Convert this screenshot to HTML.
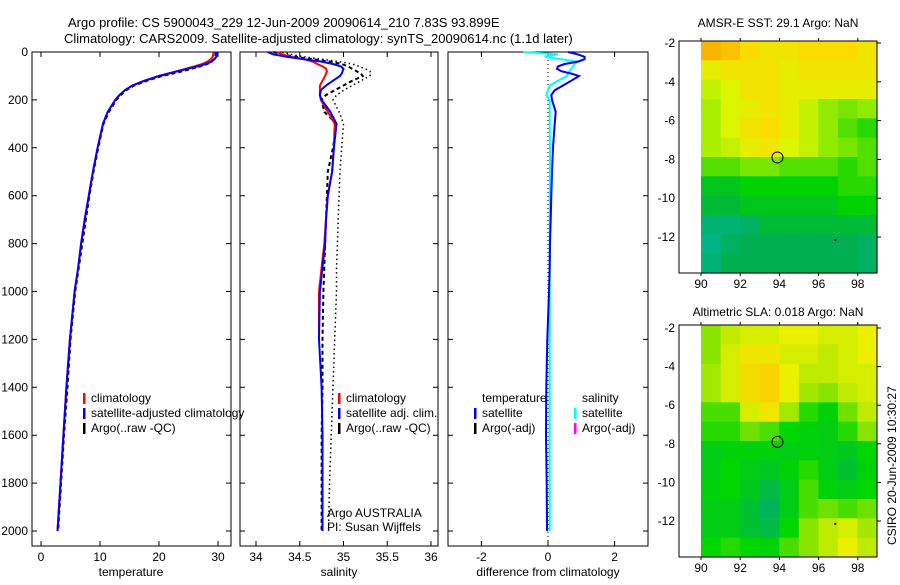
<!DOCTYPE html>
<html><head><meta charset="utf-8">
<style>
body{margin:0;background:#fff;width:900px;height:580px;overflow:hidden;font-family:"Liberation Sans",sans-serif;}
svg text{font-family:"Liberation Sans",sans-serif;font-size:12px;fill:#000;}
</style></head>
<body>
<svg id="chart" width="900" height="580" xmlns="http://www.w3.org/2000/svg">
<text x="68" y="27" style="font-size:13px">Argo profile: CS 5900043_229 12-Jun-2009 20090614_210 7.83S 93.899E</text>
<text x="64" y="43" style="font-size:13px">Climatology: CARS2009. Satellite-adjusted climatology: synTS_20090614.nc (1.1d later)</text>
<text x="778" y="27" text-anchor="middle">AMSR-E SST: 29.1 Argo: NaN</text>
<text x="778" y="316" text-anchor="middle">Altimetric SLA: 0.018 Argo: NaN</text>
<text transform="translate(896,545) rotate(-90)" x="0" y="0">CSIRO 20-Jun-2009 10:30:27</text>
<g id="g"></g>
</svg>
<script>
// ---- profile data ----
const depths = [0,10,20,30,40,50,60,70,80,90,100,120,140,160,180,200,250,300,400,500,600,700,800,900,1000,1200,1400,1600,1800,2000];
const tempClim = [29.2,29.2,29.1,28.8,28.2,27.3,26,24.5,23,21.5,20,17.5,15.5,14.2,13.3,12.6,11.3,10.5,9.6,8.8,8.1,7.4,6.8,6.3,5.7,4.9,4.3,3.8,3.3,2.8];
const tempSat  = [29.8,29.8,29.7,29.4,28.9,27.9,26.5,24.8,23.2,21.6,20,17.6,15.5,14.2,13.3,12.6,11.3,10.5,9.6,8.8,8.1,7.4,6.8,6.3,5.7,4.9,4.3,3.8,3.3,2.8];
const tempArgo = [29.6,29.6,29.5,29.3,28.9,28.2,27,25.5,24,22.3,20.5,18,15.8,14.4,13.5,12.8,11.5,10.6,9.7,8.9,8.2,7.6,7.0,6.4,5.8,5.0,4.5,3.9,3.4,2.9];
const salClim  = [34.24,34.3,34.4,34.55,34.65,34.7,34.76,34.8,34.81,34.8,34.79,34.76,34.73,34.73,34.73,34.74,34.82,34.9,34.89,34.87,34.82,34.8,34.78,34.75,34.72,34.72,null,null,null,null];
const salSat   = [34.13,34.2,34.35,34.55,34.75,34.88,34.97,35.0,34.99,34.98,34.96,34.88,34.8,34.74,34.73,34.75,34.85,34.92,34.89,34.87,34.82,34.8,34.79,34.76,34.73,34.72,34.75,34.76,34.76,34.76];
const salArgo  = [34.2,34.3,34.45,34.65,34.85,34.98,35.05,35.1,35.15,35.2,35.22,35.1,35.0,34.9,34.8,34.75,34.78,34.92,34.88,34.82,34.81,34.8,34.79,34.78,34.77,34.76,34.76,34.75,34.75,34.75];
const salArgoRaw = [34.3,34.4,34.55,34.75,34.95,35.1,35.18,35.25,35.3,35.32,35.3,35.2,35.1,35.0,34.92,34.88,34.95,35.0,34.98,34.96,34.95,34.94,34.93,34.92,34.92,34.9,34.88,34.86,34.84,34.83];
const diffTemp = [0.6,0.9,1.1,1.1,0.9,0.5,0.3,0.27,0.4,0.7,0.93,0.7,0.45,0.2,0.1,0.12,0.23,0.2,0.15,0.12,0.1,0.08,0.06,0.05,0.03,-0.02,-0.05,-0.06,-0.04,-0.03];
const diffSal  = [-0.75,0.3,-0.1,0.4,0.87,0.8,0.75,0.7,0.65,0.6,0.57,0.3,0.05,0.0,-0.05,0.05,0.05,0.05,0.06,0.06,0.05,0.05,0.05,0.05,0.05,0.05,0.05,0.05,0.05,0.05];
const depthTicks = [0,200,400,600,800,1000,1200,1400,1600,1800,2000];
const tempTicks = [0,10,20,30];
const salTicks = ["34","34.5","35","35.5","36"];
const diffTicks = [-2,0,2];
// ---- map data (rows lat -2.5..-13.5, cols lon ~90.4..98.4) ----
const sstGrid = [
[30.3,30.2,30.0,29.9,29.9,30.0,30.0,30.0,29.9],
[29.8,29.9,29.9,29.9,29.8,29.9,29.9,29.9,29.9],
[29.6,29.7,29.9,29.9,29.8,29.8,29.8,29.8,29.8],
[29.5,29.7,29.8,29.9,29.8,29.6,29.4,29.3,29.4],
[29.5,29.7,29.9,30.0,29.8,29.6,29.4,29.2,29.1],
[29.5,29.6,29.8,29.9,29.7,29.6,29.4,29.3,29.2],
[29.2,29.2,29.3,29.3,29.2,29.2,29.2,29.1,29.2],
[28.9,28.9,29.0,29.0,29.0,29.0,29.0,29.1,29.1],
[28.8,28.8,28.9,28.9,28.9,28.9,28.9,29.0,29.0],
[28.5,28.5,28.6,28.8,28.8,28.8,28.8,28.8,28.8],
[28.4,28.6,28.7,28.7,28.7,28.7,28.7,28.7,28.6],
[28.5,28.7,28.7,28.7,28.7,28.7,28.7,28.7,28.6]];
const slaGrid = [
[0.02,0.04,0.05,0.05,0.06,0.06,0.05,0.05,0.06],
[0.02,0.05,0.07,0.07,0.05,0.05,0.04,0.05,0.06],
[0.03,0.05,0.08,0.09,0.06,0.04,0.04,0.05,0.05],
[0.03,0.05,0.08,0.09,0.06,0.03,0.02,0.04,0.05],
[0.0,0.0,0.05,0.07,0.03,-0.01,-0.03,0.01,0.04],
[-0.01,-0.01,0.01,0.0,-0.02,-0.03,-0.04,-0.01,0.02],
[-0.04,-0.03,-0.03,-0.03,-0.04,-0.03,-0.04,-0.05,-0.02],
[-0.04,-0.02,-0.04,-0.05,-0.03,-0.01,-0.04,-0.06,-0.03],
[-0.03,-0.02,-0.05,-0.07,-0.04,0.0,-0.03,-0.04,-0.02],
[-0.04,-0.04,-0.06,-0.08,-0.04,0.0,0.01,0.0,0.01],
[-0.04,-0.04,-0.06,-0.07,-0.02,0.02,0.04,0.05,0.03],
[-0.02,-0.01,-0.02,-0.03,0.0,0.02,0.04,0.06,0.04]];
const latTicks = [-2,-4,-6,-8,-10,-12];
const lonTicks = [90,92,94,96,98];
const floatLon = 93.9, floatLat = -7.9;

const NS="http://www.w3.org/2000/svg";
const G=document.getElementById('g');
function mk(tag,attrs,parent){const e=document.createElementNS(NS,tag);for(const k in attrs)e.setAttribute(k,attrs[k]);(parent||G).appendChild(e);return e;}
const yD = d => 52 + d*0.2395;
const xT = v => 41 + v*5.9;
const xS = v => 256 + (v-34)*87.5;
const xDf = v => 548 + v*33.3;

function frame(x0,x1,nm){
  const r=mk('rect',{x:x0,y:52,width:x1-x0,height:494,fill:'none',stroke:'#000','stroke-width':1});
  
  
  depthTicks.forEach(d=>{
    const y=yD(d);
    const t=mk('path',{d:`M${x0} ${y}h5M${x1} ${y}h-5`,stroke:'#000'});
    
    
  });
}
frame(32,231,'temperature');frame(240,438,'salinity');frame(448,648,'difference');
depthTicks.forEach(d=>{
  const t=mk('text',{x:28,y:yD(d)+4,'text-anchor':'end'});t.textContent=d;
  
  
});
function xticks(vals,fx,lab){
  vals.forEach(v=>{
    const x=fx(+v);
    const p=mk('path',{d:`M${x} 52v5M${x} 546v-5`,stroke:'#000'});
    
    
    const t=mk('text',{x:x,y:561,'text-anchor':'middle'});t.textContent=v;
    
    
  });
}
xticks(tempTicks,xT,'temperature');xticks(salTicks,xS,'salinity');xticks(diffTicks,xDf,'difference');
[[131,'temperature'],[339,'salinity'],[548,'difference from climatology']].forEach(([x,s])=>{
  const t=mk('text',{x:x,y:576,'text-anchor':'middle'});t.textContent=s;
  
  
});
function line(arr,fx,color,w,dash,nm){
  let d='';let pen=false;
  arr.forEach((v,i)=>{ if(v===null){pen=false;return;} d+=(pen?'L':'M')+fx(v).toFixed(1)+' '+yD(depths[i]).toFixed(1);pen=true;});
  const p=mk('path',{d:d,fill:'none',stroke:color,'stroke-width':w});
  if(dash)p.setAttribute('stroke-dasharray',dash);
  
  
}
line(tempArgo,xT,'#000',2,'4,3','temp-argo-line');
line(tempClim,xT,'#f00',2,null,'temp-climatology-line');
line(tempSat,xT,'#00f',2,null,'temp-satellite-line');
line(salArgoRaw,xS,'#000',1.5,'1.5,3','sal-argo-raw-line');
line(salArgo,xS,'#000',2,'4,3','sal-argo-line');
line(salClim,xS,'#f00',2,null,'sal-climatology-line');
line(salSat,xS,'#00f',2,null,'sal-satellite-line');
const zl=mk('path',{d:`M${xDf(0)} 52V546`,stroke:'#000','stroke-dasharray':'1,3'});


line(diffSal,xDf,'#0ff',2,null,'diff-salinity-line');
line(diffTemp,xDf,'#00f',2,null,'diff-temperature-line');

function legend(x,y,items){
  items.forEach((it,i)=>{
    const yy=y+i*15;
    if(it[0]){const b=mk('rect',{x:x,y:yy-9,width:2.5,height:11,fill:it[0]});
      
      }
    const t=mk('text',{x:x+8,y:yy});t.textContent=it[1];
    
    
  });
}
legend(83,402,[['#f00','climatology'],['#00f','satellite-adjusted climatology'],['#000','Argo(..raw -QC)']]);
legend(338,402,[['#f00','climatology'],['#00f','satellite adj. clim.'],['#000','Argo(..raw -QC)']]);
legend(474,402,[[null,'temperature'],['#00f','satellite'],['#000','Argo(-adj)']]);
legend(574,402,[[null,'salinity'],['#0ff','satellite'],['#f0f','Argo(-adj)']]);
[['Argo AUSTRALIA',517],['PI: Susan Wijffels',531]].forEach(([s,y])=>{
  const t=mk('text',{x:327,y:y});t.textContent=s;
  
  
});

// ---- maps ----
function cmap(stops,v){
  if(v<=stops[0][0])return stops[0][1];
  for(let i=1;i<stops.length;i++){if(v<=stops[i][0]){const a=stops[i-1],b=stops[i];const t=(v-a[0])/(b[0]-a[0]);
    return a[1].map((c,k)=>Math.round(c+(b[1][k]-c)*t));}}
  return stops[stops.length-1][1];
}
const sstStops=[[28.2,[0,185,165]],[28.7,[0,175,80]],[29.0,[0,210,0]],[29.3,[120,230,0]],[29.7,[220,245,0]],[30.0,[250,220,0]],[30.3,[250,180,0]]];
const slaStops=[[-0.08,[0,180,90]],[-0.05,[0,200,30]],[-0.02,[0,215,0]],[0.01,[110,225,0]],[0.04,[190,235,0]],[0.06,[235,240,0]],[0.09,[250,210,0]]];
function map(top,bottom,lat0,latPx,grid,stops,nm){
  const x0=679,x1=877;
  const lx=lon=>701+(lon-90)*19.6;
  const ly=lat=>lat0+(-2-lat)*latPx;
  const cw=(x1-701)/grid[0].length, ch=(bottom-top)/grid.length;
  grid.forEach((row,r)=>row.forEach((v,c)=>{
    const col=cmap(stops,v);
    const cell=mk('rect',{x:(701+c*cw).toFixed(1),y:(top+r*ch).toFixed(1),width:(cw+0.6).toFixed(1),height:(ch+0.6).toFixed(1),fill:`rgb(${col})`});
    
    
  }));
  const fr=mk('rect',{x:x0,y:top,width:x1-x0,height:bottom-top,fill:'none',stroke:'#000'});
  
  
  latTicks.forEach(l=>{
    const y=ly(l);
    const p=mk('path',{d:`M${x1} ${y}h4`,stroke:'#000'});
    
    
    const t=mk('text',{x:675,y:y+4,'text-anchor':'end'});t.textContent=l;
    
    
  });
  lonTicks.forEach(l=>{
    const x=lx(l);
    const p=mk('path',{d:`M${x} ${top}v-3M${x} ${bottom}v3`,stroke:'#000'});
    
    
    const t=mk('text',{x:x,y:bottom+15,'text-anchor':'middle'});t.textContent=l;
    
    
  });
  const c=mk('circle',{cx:lx(floatLon),cy:ly(floatLat),r:5.5,fill:'none',stroke:'#000'});
  
  
  const dot=mk('rect',{x:lx(96.8),y:ly(-12.1),width:2,height:2,fill:'#000'});
  
  
}
map(41,273,43,19.4,sstGrid,sstStops,'sst-map');
map(325,557,328,19.3,slaGrid,slaStops,'sla-map');
</script>
</body></html>
